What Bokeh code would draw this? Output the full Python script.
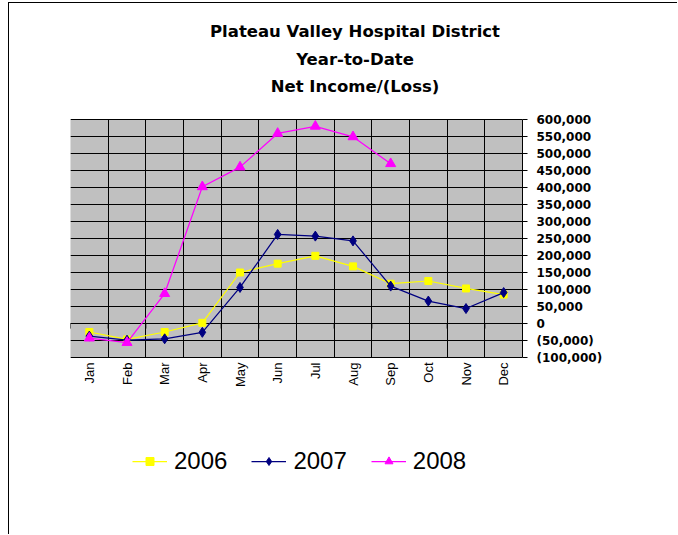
import math
from bokeh.plotting import figure
from bokeh.models import Range1d, FixedTicker, Legend, LegendItem, Span, Label, BoxAnnotation, Grid
from bokeh.core.properties import value
from bokeh.embed import file_html
from bokeh.resources import INLINE

# ---- data ----
months = ["Jan", "Feb", "Mar", "Apr", "May", "Jun", "Jul", "Aug", "Sep", "Oct", "Nov", "Dec"]
net_2006 = [-25000, -47000, -25000, 2000, 150000, 176000, 199000, 168000, 117000, 125000, 103000, 85000]
net_2007 = [-37000, -49000, -45000, -26000, 106000, 262000, 257000, 243000, 110000, 66000, 44000, 91000]
net_2008 = [-43000, -56000, 88000, 402000, 460000, 559000, 580000, 549000, 470000]
ytick_values = [-100000, -50000, 0, 50000, 100000, 150000, 200000, 250000, 300000,
                350000, 400000, 450000, 500000, 550000, 600000]
ytick_labels = ["(100,000)", "(50,000)", "0", "50,000", "100,000", "150,000", "200,000", "250,000",
                "300,000", "350,000", "400,000", "450,000", "500,000", "550,000", "600,000"]
title_lines = ["Plateau Valley Hospital District", "Year-to-Date", "Net Income/(Loss)"]
series_names = ["2006", "2007", "2008"]

x_centers = [i + 0.5 for i in range(len(months))]
boundaries = list(range(len(months) + 1))
y_min, y_max = ytick_values[0], ytick_values[-1]

# ---- geometry (pixels) ----
canvas_h = 531
plot_top = 116      # plot area top, from canvas top
plot_h = 238        # plot area height
upp = (y_max - y_min) / plot_h   # data units per pixel
y_range = Range1d(y_min - (canvas_h - plot_top - plot_h) * upp, y_max + plot_top * upp)

p = figure(frame_width=452, frame_height=canvas_h,
           min_border_left=61, min_border_top=0, min_border_right=155, min_border_bottom=0,
           x_range=Range1d(0, len(months)), y_range=y_range,
           x_axis_location=None, y_axis_location="right",
           output_backend="svg", toolbar_location=None,
           background_fill_color="white", border_fill_color="white")
p.styles = {"margin-left": "8px", "margin-top": "2px",
            "border-left": "1px solid black", "border-top": "1px solid black"}
p.outline_line_color = None

# plot area background
p.add_layout(BoxAnnotation(bottom=y_min, top=y_max, fill_color="#C0C0C0", fill_alpha=1,
                           line_color="#808080", line_width=1, level="image"))

# grids
p.ygrid.ticker = FixedTicker(ticks=ytick_values)
p.xgrid.ticker = FixedTicker(ticks=boundaries)
if "cross_bounds" in Grid.properties():
    p.xgrid.cross_bounds = (y_min, y_max)
else:
    p.xgrid.visible = False
    p.segment(x0=boundaries, y0=[y_min] * len(boundaries), x1=boundaries,
              y1=[y_max] * len(boundaries), line_color="black", line_width=1, level="underlay")
for g in (p.xgrid, p.ygrid):
    g.grid_line_color = "black"
    g.grid_line_alpha = 1
    g.grid_line_width = 1

# y axis on the right
ya = p.yaxis[0]
ya.ticker = FixedTicker(ticks=ytick_values)
ya.bounds = (y_min, y_max)
ya.major_label_overrides = {v: s for v, s in zip(ytick_values, ytick_labels)}
ya.axis_line_color = "black"
ya.major_tick_line_color = "black"
ya.major_tick_out = 5
ya.major_tick_in = 0
ya.minor_tick_line_color = None
ya.major_label_standoff = 9
ya.major_label_text_font = "DejaVu Sans"
ya.major_label_text_font_style = "bold"
ya.major_label_text_font_size = "12px"
ya.major_label_text_color = "black"

# category axis crossing at zero with tick marks at category boundaries
p.add_layout(Span(location=0, dimension="width", line_color="black", line_width=1, level="underlay"))
tick_len = 15000
p.segment(x0=boundaries, y0=[0] * len(boundaries), x1=boundaries,
          y1=[-tick_len] * len(boundaries), line_color="black", line_width=1)

# month labels below the plot area
p.text(x=x_centers, y=[y_min] * len(months), text=months, angle=math.pi / 2,
       y_offset=5, text_align="right", text_baseline="middle",
       text_font=value("Liberation Sans"), text_font_size=value("13px"), text_color="black")

# series
colors = ["#FFFF00", "#000080", "#FF00FF"]
markers = ["square", "diamond", "triangle"]
sizes = [7, 10, 10]
data = [net_2006, net_2007, net_2008]
items = []
for name, vals, col, mk, sz in zip(series_names, data, colors, markers, sizes):
    xs = x_centers[:len(vals)]
    ln = p.line(xs, vals, line_color=col, line_width=1.25)
    sc = p.scatter(xs, vals, marker=mk, size=sz, fill_color=col, line_color=col)
    items.append(LegendItem(label=name, renderers=[ln, sc]))

legend = Legend(items=items, location=(62, 59), orientation="horizontal",
                glyph_width=35, glyph_height=20, label_standoff=7, spacing=24,
                padding=0, margin=0, border_line_color=None, background_fill_alpha=0,
                label_text_font="Liberation Sans", label_text_font_size="24px",
                label_text_color="black")
p.add_layout(legend, "center")

# title lines (screen units, measured from the frame's bottom-left)
title_x = 284.5
title_baselines = [503, 475.3, 448]
for t, ty in zip(title_lines, title_baselines):
    p.add_layout(Label(x=title_x, y=ty, x_units="screen", y_units="screen", text=t,
                       text_align="center", text_baseline="alphabetic",
                       text_font="DejaVu Sans", text_font_style="bold",
                       text_font_size="16.5px", text_color="black"))

open("out.html", "w").write(file_html(p, INLINE))
